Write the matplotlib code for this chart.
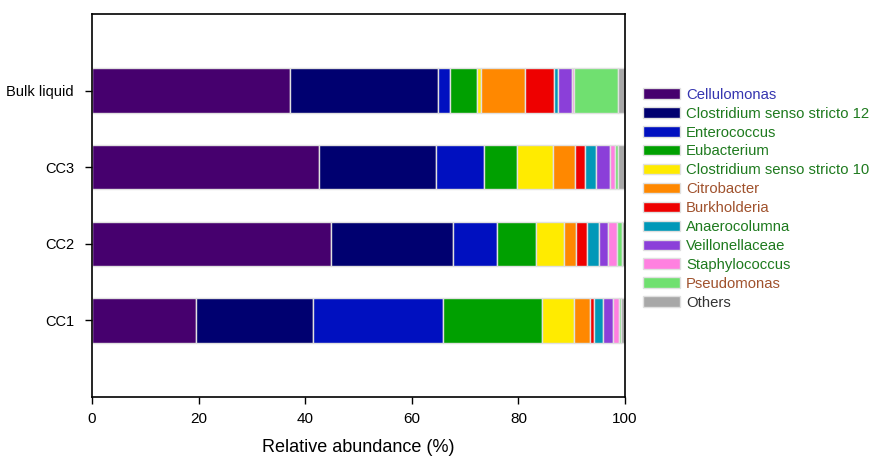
import matplotlib.pyplot as plt
import numpy as np

plt.rcParams['font.family'] = ['Liberation Sans', 'DejaVu Sans']

samples = ['CC1', 'CC2', 'CC3', 'Bulk liquid']
taxa = ['Cellulomonas', 'Clostridium senso stricto 12', 'Enterococcus', 'Eubacterium',
        'Clostridium senso stricto 10', 'Citrobacter', 'Burkholderia', 'Anaerocolumna',
        'Veillonellaceae', 'Staphylococcus', 'Pseudomonas', 'Others']

# relative abundance (%) per sample, in taxa order
cc1 = [19.5, 21.9, 24.4, 18.6, 6.0, 3.1, 0.7, 1.6, 1.9, 1.1, 0.5, 0.7]
cc2 = [44.9, 22.9, 8.2, 7.3, 5.2, 2.3, 2.1, 2.2, 1.8, 1.6, 0.9, 0.6]
cc3 = [42.6, 21.9, 9.1, 6.1, 6.8, 4.2, 1.8, 2.0, 2.6, 1.1, 0.5, 1.3]
bulk = [37.2, 27.8, 2.2, 5.0, 0.8, 8.2, 5.5, 0.7, 2.7, 0.3, 8.2, 1.4]

bar_colors = ['#46006E', '#000070', '#0010C0', '#00A000', '#FFEB00', '#FF8800',
              '#EE0000', '#0098B8', '#8B3FD9', '#FF80E0', '#70E070', '#A8A8A8']
label_colors = ['#3535B0', '#1E7A1E', '#1E7A1E', '#1E7A1E', '#1E7A1E', '#A0522D',
                '#A0522D', '#1E7A1E', '#1E7A1E', '#1E7A1E', '#A0522D', '#333333']

data = np.array([cc1, cc2, cc3, bulk])

fig = plt.figure(figsize=(8.69, 4.57), dpi=100)
ax = fig.add_axes([0.1059, 0.1313, 0.6133, 0.8381])

y = np.arange(len(samples))
left = np.zeros(len(samples))
for i, name in enumerate(taxa):
    ax.barh(y, data[:, i], left=left, height=0.58, color=bar_colors[i],
            edgecolor='#E0E0E0', linewidth=1, label=name)
    left += data[:, i]

ax.set_xlim(0, 100)
ax.set_ylim(-1, 4)
ax.set_yticks(y)
ax.set_yticklabels(samples, fontsize=10.5)
ax.set_xticks([0, 20, 40, 60, 80, 100])
ax.tick_params(axis='x', labelsize=11, length=5, width=1, pad=6)
ax.tick_params(axis='y', length=5, width=1, pad=8)
ax.set_xlabel('Relative abundance (%)', fontsize=13, labelpad=9)
for sp in ax.spines.values():
    sp.set_linewidth(1.2)

leg = fig.legend(loc='upper left', bbox_to_anchor=(0.740, 0.808), frameon=False,
                 fontsize=10.7, handlelength=2.5, handleheight=0.7,
                 labelspacing=0.33, handletextpad=0.4, borderpad=0, borderaxespad=0)
for txt, c in zip(leg.get_texts(), label_colors):
    txt.set_color(c)

fig.savefig('out.png', dpi=100)
